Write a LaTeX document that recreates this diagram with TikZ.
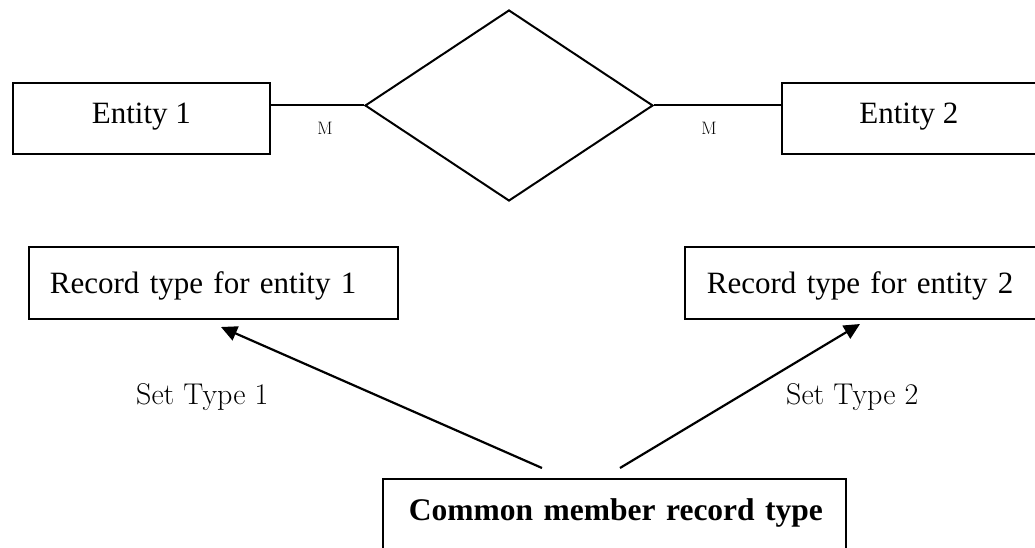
\documentclass[tikz,border=0pt]{standalone}
\usepackage{fontspec}
\newfontfamily\timesfont{Liberation Serif}
\usetikzlibrary{shapes.geometric,arrows.meta}
\tikzset{
  boxline/.style={draw=black, line width=1.8pt, rectangle, inner ysep=0pt},
  boxtext/.style={font=\timesfont\fontsize{31}{36}\selectfont},
  boldtext/.style={font=\timesfont\bfseries\fontsize{31.5}{36}\selectfont},
  smalllabel/.style={font=\fontsize{18}{20}\selectfont, inner sep=0pt},
  setlabel/.style={font=\fontsize{30}{34}\selectfont, inner sep=0pt, anchor=base west},
  conn/.style={line width=2pt},
  arrowconn/.style={line width=2.2pt, -{Triangle[length=16pt,width=15pt]}}
}
\begin{document}
\begin{tikzpicture}[x=1pt,y=-1pt]
\useasboundingbox (0,0) rectangle (1035,548);
\clip (0,0) rectangle (1035,548);
% entity boxes
\node[boxline, boxtext, anchor=north west, minimum width=257pt, inner xsep=0pt,
      text height=41pt, text depth=30pt] (e1) at (12,82) {Entity 1};
\node[boxline, boxtext, anchor=north west, minimum width=254pt, inner xsep=0pt,
      text height=41pt, text depth=30pt] (e2) at (781,82) {Entity 2};
% relationship diamond
\node[diamond, draw=black, line width=2pt, minimum width=288pt, minimum height=191pt,
      inner sep=0pt] (rel) at (509,105.5) {};
\draw[conn] (e1.east |- rel.west) -- (rel.west);
\draw[conn] (rel.east) -- (e2.west |- rel.east);
\node[smalllabel] (m1) at (325,128) {M};
\node[smalllabel] (m2) at (709,128) {M};
% record boxes
\node[boxline, boxtext, anchor=north west, inner xsep=21pt, text width=327pt, align=left,
      text height=47pt, text depth=25pt] (r1) at (28,246) {Record type for entity 1};
\node[boxline, boxtext, anchor=north west, inner xsep=22pt, text width=327pt, align=left,
      text height=47pt, text depth=25pt] (r2) at (684,246) {Record type for entity 2};
% common member box
\node[boxline, boldtext, anchor=north west, inner xsep=26pt, text width=411pt, align=left,
      text height=42pt, text depth=60pt] (cm) at (382,478) {\mbox{Common member record type}};
% arrows
\coordinate (s1) at (542,468);
\coordinate (t1) at (221,327);
\coordinate (s2) at (620,468);
\coordinate (t2) at (860,324);
\draw[arrowconn] (s1) -- (t1);
\draw[arrowconn] (s2) -- (t2);
\node[setlabel] (st1) at (136,404) {Set Type 1};
\node[setlabel] (st2) at (786,404) {Set Type 2};
\end{tikzpicture}
\end{document}
